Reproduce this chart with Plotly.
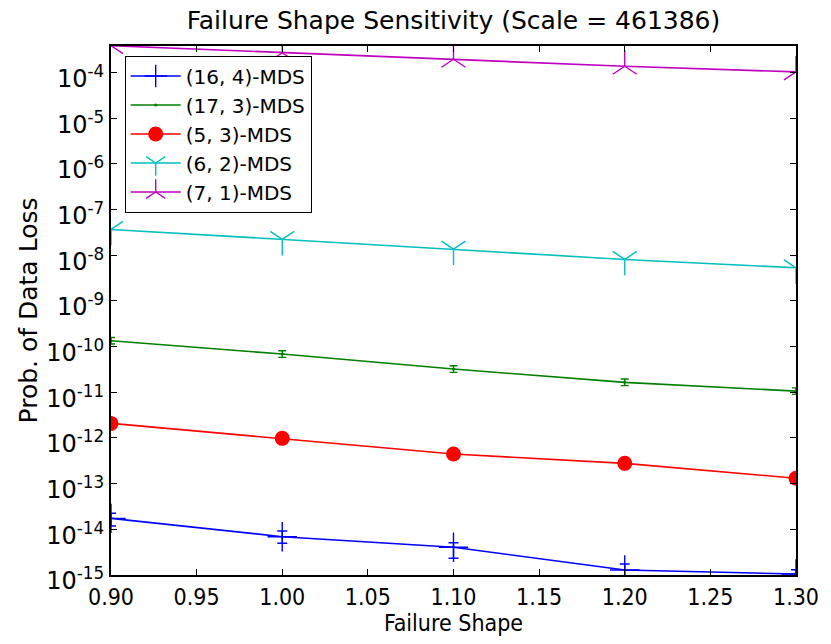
import plotly.graph_objects as go

# Failure-shape sweep and probability of data loss per erasure code
shape = [0.90, 1.00, 1.10, 1.20, 1.30]

mds_16_4 = [1.74e-14, 6.89e-15, 4.04e-15, 1.29e-15, 1.05e-15]
mds_16_4_hi = [2.24e-14, 9.18e-15, 5.09e-15, 1.74e-15, 1.30e-15]
mds_16_4_lo = [1.18e-14, 4.94e-15, 2.32e-15, 8.0e-16, 7.5e-16]

mds_17_3 = [1.34e-10, 6.86e-11, 3.22e-11, 1.65e-11, 1.06e-11]
mds_17_3_hi = [1.58e-10, 8.1e-11, 3.8e-11, 1.95e-11, 1.25e-11]
mds_17_3_lo = [1.14e-10, 5.8e-11, 2.73e-11, 1.40e-11, 0.90e-11]

mds_5_3 = [2.08e-12, 9.8e-13, 4.45e-13, 2.78e-13, 1.31e-13]
mds_6_2 = [3.67e-8, 2.22e-8, 1.36e-8, 8.09e-9, 5.3e-9]
mds_7_1 = [3.86e-4, 2.71e-4, 1.95e-4, 1.37e-4, 1.03e-4]

x_ticks = [0.90, 0.95, 1.00, 1.05, 1.10, 1.15, 1.20, 1.25, 1.30]
y_exponents = list(range(-15, -3))

FONT = "DejaVu Sans, Bitstream Vera Sans, sans-serif"
NARROW = "Liberation Sans Narrow, DejaVu Sans Condensed, DejaVu Sans, sans-serif"


def bar_sizes(center, hi, lo):
    plus = [h - c for h, c in zip(hi, center)]
    minus = [c - l for c, l in zip(center, lo)]
    return plus, minus


fig = go.Figure()

p, m = bar_sizes(mds_16_4, mds_16_4_hi, mds_16_4_lo)
fig.add_trace(go.Scatter(
    x=shape, y=mds_16_4, name="(16, 4)-MDS", mode="lines+markers",
    line=dict(color="#0000ff", width=1.6),
    marker=dict(symbol="cross-thin", size=21, line=dict(color="#0000ff", width=1.4)),
    error_y=dict(type="data", array=p, arrayminus=m, color="#0000ff",
                 thickness=1.4, width=5),
))

p, m = bar_sizes(mds_17_3, mds_17_3_hi, mds_17_3_lo)
fig.add_trace(go.Scatter(
    x=shape, y=mds_17_3, name="(17, 3)-MDS", mode="lines+markers",
    line=dict(color="#008000", width=1.6),
    marker=dict(symbol="circle", size=3, color="#008000"),
    error_y=dict(type="data", array=p, arrayminus=m, color="#008000",
                 thickness=1.4, width=4),
))

fig.add_trace(go.Scatter(
    x=shape, y=mds_5_3, name="(5, 3)-MDS", mode="lines+markers",
    line=dict(color="#ff0000", width=1.6),
    marker=dict(symbol="circle", size=15, color="#ff0000"),
))

fig.add_trace(go.Scatter(
    x=shape, y=mds_6_2, name="(6, 2)-MDS", mode="lines+markers",
    line=dict(color="#00bfbf", width=1.6),
    marker=dict(symbol="y-down", size=20, line=dict(color="#00bfbf", width=1.4)),
))

fig.add_trace(go.Scatter(
    x=shape, y=mds_7_1, name="(7, 1)-MDS", mode="lines+markers",
    line=dict(color="#bf00bf", width=1.6),
    marker=dict(symbol="y-up", size=20, line=dict(color="#bf00bf", width=1.4)),
))

axis_common = dict(
    showline=True, linecolor="black", linewidth=2, mirror="ticks",
    ticks="inside", ticklen=6, tickwidth=1, tickcolor="black",
    showgrid=False, zeroline=False,
)

fig.update_xaxes(
    range=[0.9, 1.3], tickvals=x_ticks,
    ticktext=[f"{v:.2f}" for v in x_ticks],
    tickfont=dict(family=NARROW, size=23, color="black"),
    title=dict(text="Failure Shape", font=dict(family=NARROW, size=23, color="black"),
               standoff=4),
    **axis_common,
)

fig.update_yaxes(
    type="log", range=[-15, -3.42],
    tickvals=[10.0 ** e for e in y_exponents],
    ticktext=[f"10<sup>{e}</sup>" for e in y_exponents],
    tickfont=dict(family=FONT, size=24, color="black"),
    ticklabelshift=6,
    title=dict(text="Prob. of Data Loss", font=dict(family=FONT, size=25, color="black"),
               standoff=1),
    **axis_common,
)

fig.update_layout(
    width=831, height=644,
    margin=dict(l=111, r=35, t=46, b=69),
    paper_bgcolor="white", plot_bgcolor="white",
    font=dict(family=FONT, color="black"),
    title=dict(text="Failure Shape Sensitivity (Scale = 461386)",
               font=dict(family=FONT, size=25, color="black"),
               x=0.5, xref="paper", xanchor="center",
               y=1 - 20 / 644, yref="container", yanchor="middle"),
    legend=dict(
        x=0.02, y=0.982, xanchor="left", yanchor="top",
        bgcolor="white", bordercolor="black", borderwidth=1,
        font=dict(family=FONT, size=20, color="black"),
        itemwidth=50, tracegroupgap=0,
    ),
    showlegend=True,
)

fig.write_html("out.html")
